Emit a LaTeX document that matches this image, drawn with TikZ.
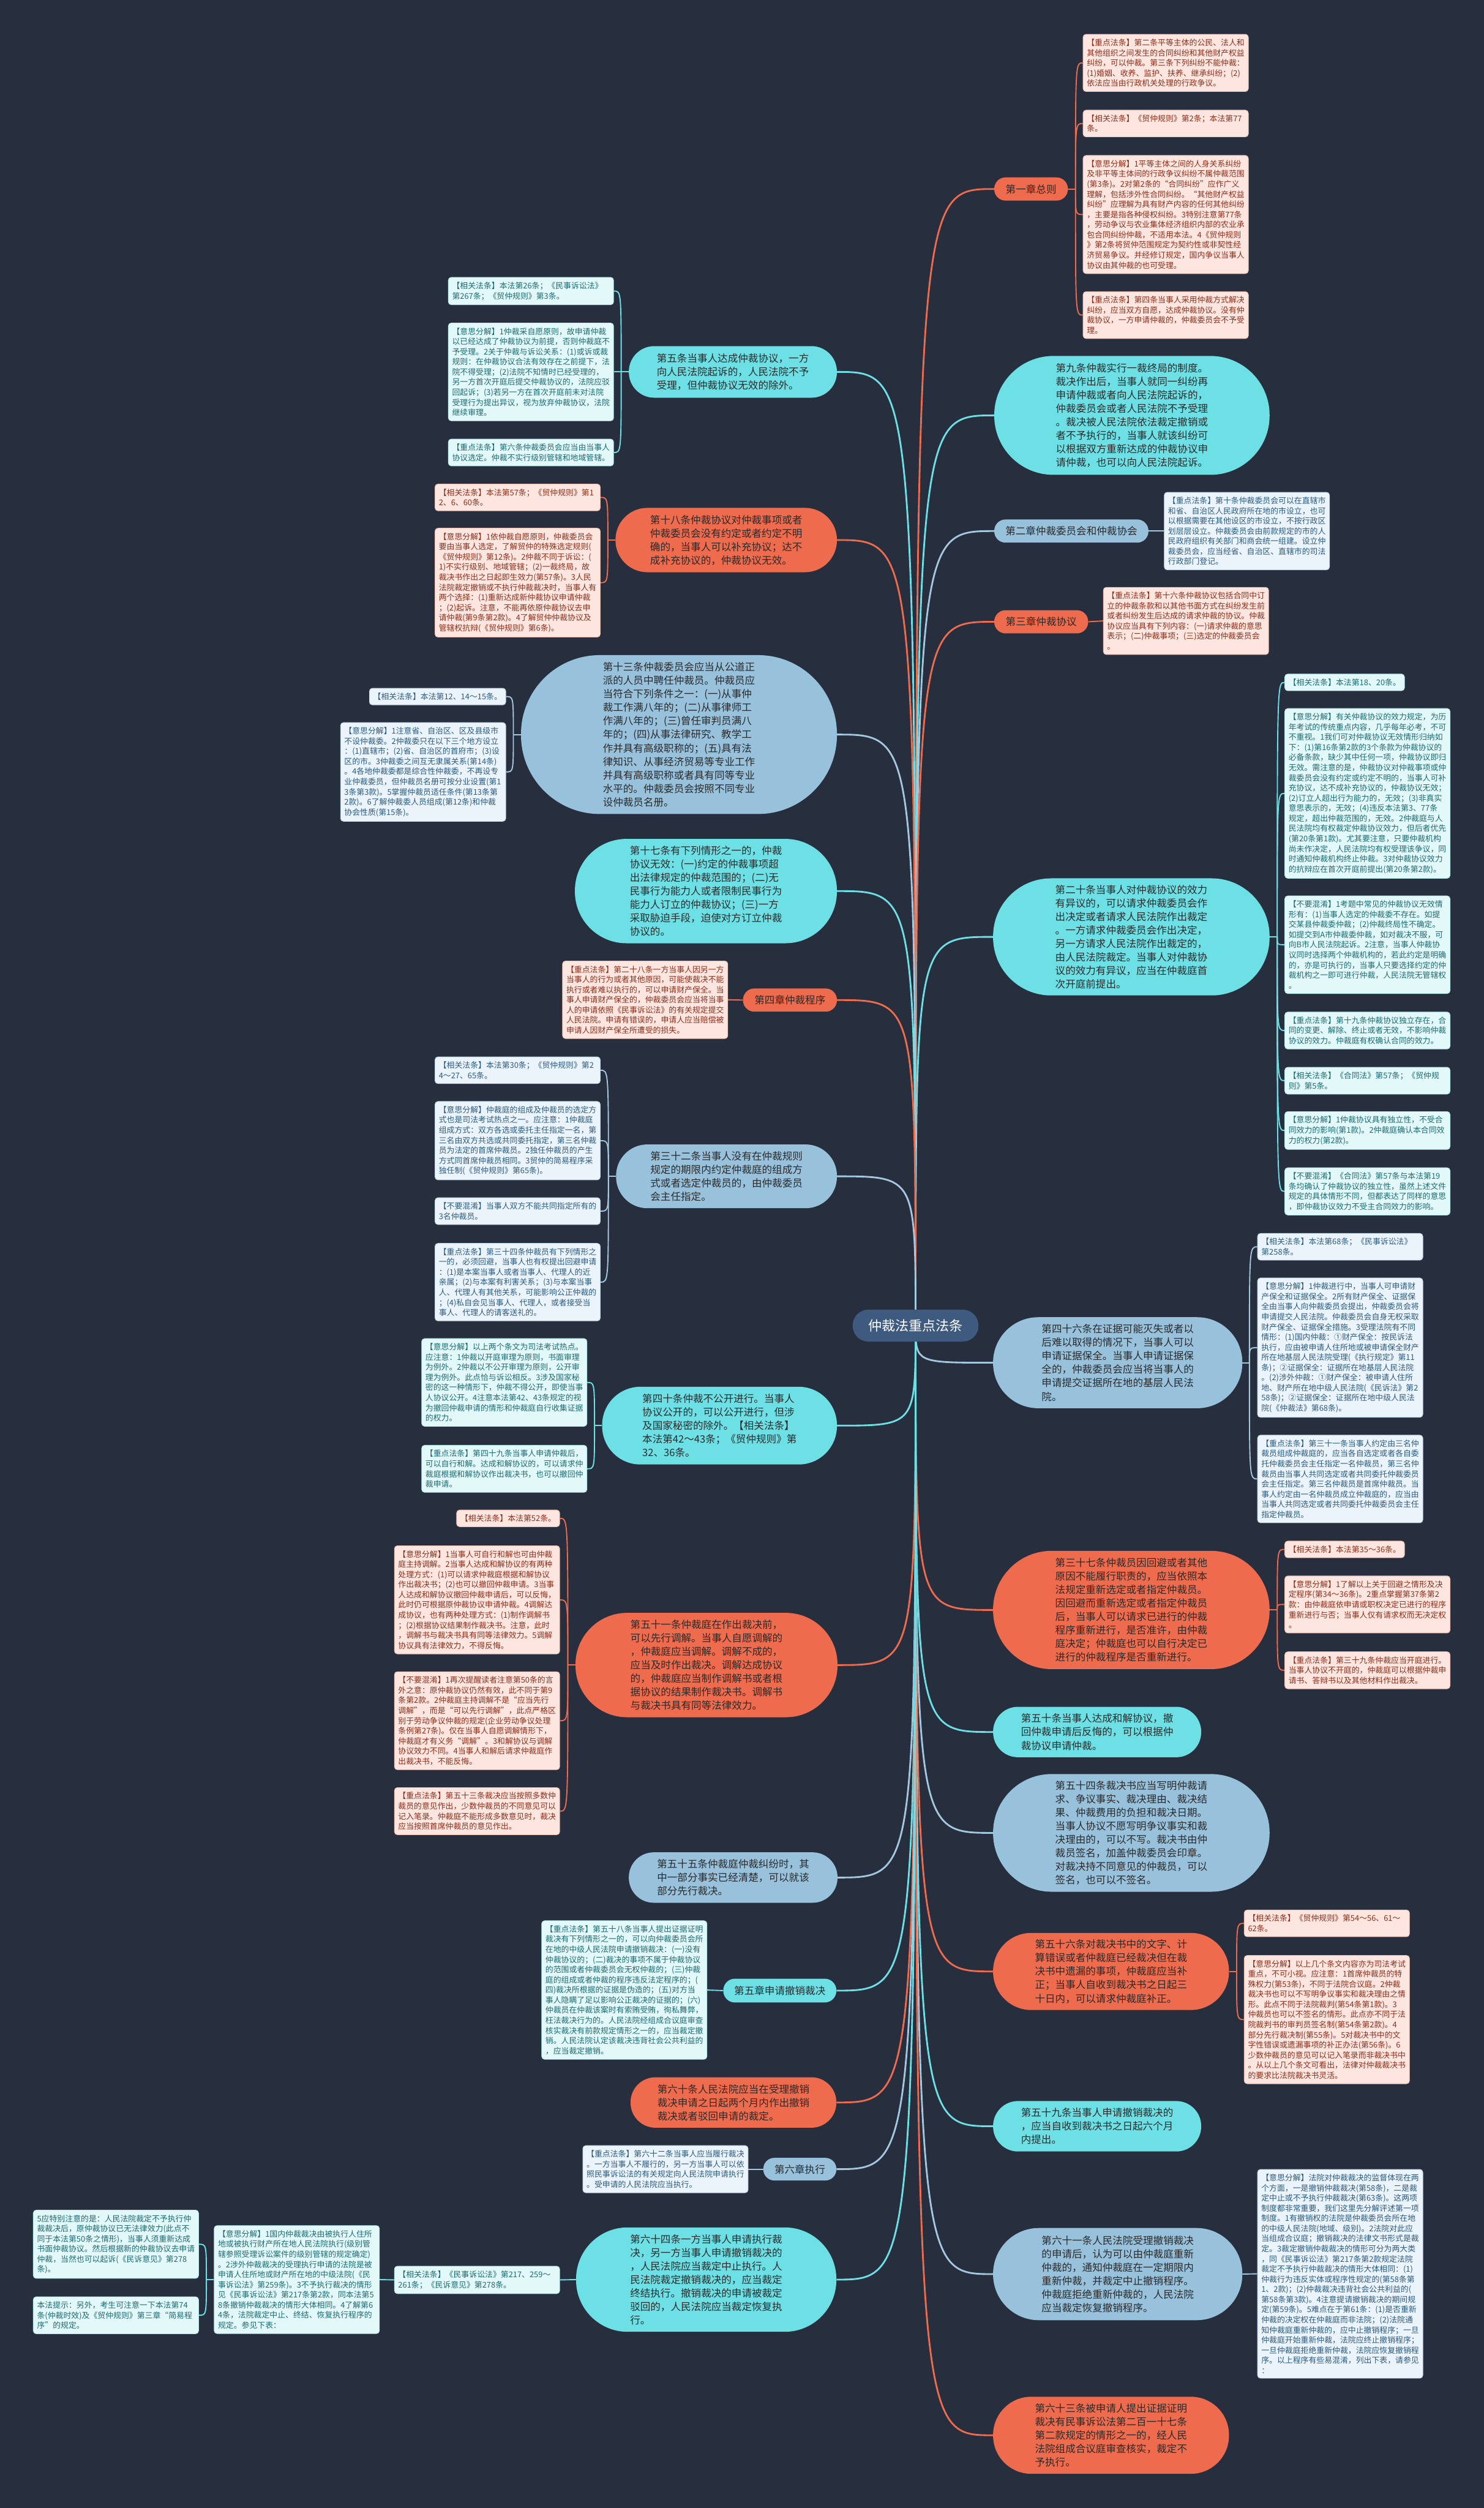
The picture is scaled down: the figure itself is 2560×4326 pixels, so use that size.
\documentclass[tikz,border=0pt]{standalone}
\usepackage{fontspec}
\setmainfont{Noto Sans CJK SC}
\usetikzlibrary{calc}
\definecolor{bgc}{HTML}{272F3F}
\definecolor{ofill}{HTML}{EE6B4D}
\definecolor{cfill}{HTML}{6DE0E6}
\definecolor{bfill}{HTML}{98C1DC}
\definecolor{rootf}{HTML}{3E5A7F}
\definecolor{ntxt}{HTML}{2A2A2A}
\definecolor{pkf}{HTML}{FDE6DF}
\definecolor{pkd}{HTML}{F2C3B4}
\definecolor{pkt}{HTML}{8B2F1B}
\definecolor{cyf}{HTML}{E3F9F9}
\definecolor{cyd}{HTML}{B7ECEF}
\definecolor{cyt}{HTML}{1C6A72}
\definecolor{blf}{HTML}{EBF4FA}
\definecolor{bld}{HTML}{C3DAEA}
\definecolor{blt}{HTML}{2B5B80}
\definecolor{olin}{HTML}{EE6B4D}
\definecolor{clin}{HTML}{6DE0E6}
\definecolor{blin}{HTML}{A3C8E0}
\pgfdeclarelayer{back}
\pgfsetlayers{back,main}
\begin{document}
\begin{tikzpicture}[x=1pt,y=-1pt,
  every node/.style={inner sep=0pt},
  pil/.style={rectangle, align=left, text=ntxt, font=\fontsize{17.5}{23.3}\selectfont},
  opil/.style={pil, fill=ofill},
  cpil/.style={pil, fill=cfill},
  bpil/.style={pil, fill=bfill},
  bx/.style={rectangle, rounded corners=5pt, align=left, text width=272pt, inner xsep=6.5pt, inner ysep=8pt, font=\fontsize{13.6}{17.5}\selectfont, line width=1pt},
  sbx/.style={rectangle, rounded corners=5pt, align=left, inner xsep=6.5pt, inner ysep=8pt, font=\fontsize{13.6}{17.5}\selectfont, line width=1pt},
  pk/.style={fill=pkf, draw=pkd, text=pkt},
  cy/.style={fill=cyf, draw=cyd, text=cyt},
  bl/.style={fill=blf, draw=bld, text=blt},
  rl/.style={line width=3pt, draw=#1},
  br/.style={line width=2pt, draw=#1}]
\begin{pgfonlayer}{back}
\fill[bgc] (0,0) rectangle (2560,4326);
\end{pgfonlayer}
\useasboundingbox (0,0) rectangle (2560,4326);

% ---------- root
\node[rectangle, fill=rootf, text=white, font=\fontsize{23.3}{28}\selectfont, minimum width=217pt, minimum height=55pt, rounded corners=27pt] (root) at (1579.5,2286.5) {仲裁法重点法条};

% ---------- right side
\node[opil, anchor=west, minimum width=127pt, minimum height=40pt, rounded corners=19.5pt] (ch1) at (1715,326) {第一章总则};
\node[bx, pk, anchor=west] (b1a) at (1868,108.5) {【重点法条】第二条平等主体的公民、法人和\\其他组织之间发生的合同纠纷和其他财产权益\\纠纷，可以仲裁。第三条下列纠纷不能仲裁：\\(1)婚姻、收养、监护、扶养、继承纠纷；(2)\\依法应当由行政机关处理的行政争议。};
\node[bx, pk, anchor=west] (b1b) at (1868,213) {【相关法条】《贸仲规则》第2条；本法第77\\条。};
\node[bx, pk, anchor=west] (b1c) at (1868,370) {【意思分解】1平等主体之间的人身关系纠纷\\及非平等主体间的行政争议纠纷不属仲裁范围\\(第3条)。2对第2条的“合同纠纷”应作广义\\理解，包括涉外性合同纠纷。“其他财产权益\\纠纷”应理解为具有财产内容的任何其他纠纷\\，主要是指各种侵权纠纷。3特别注意第77条\\，劳动争议与农业集体经济组织内部的农业承\\包合同纠纷仲裁，不适用本法。4《贸仲规则\\》第2条将贸仲范围规定为契约性或非契性经\\济贸易争议。并经修订规定，国内争议当事人\\协议由其仲裁的也可受理。};
\node[bx, pk, anchor=west] (b1d) at (1868,543.5) {【重点法条】第四条当事人采用仲裁方式解决\\纠纷，应当双方自愿，达成仲裁协议。没有仲\\裁协议，一方申请仲裁的，仲裁委员会不予受\\理。};

\node[cpil, anchor=west, minimum width=475pt, minimum height=205pt, rounded corners=102pt] (n9) at (1715,716.5) {第九条仲裁实行一裁终局的制度。\\裁决作出后，当事人就同一纠纷再\\申请仲裁或者向人民法院起诉的，\\仲裁委员会或者人民法院不予受理\\。裁决被人民法院依法裁定撤销或\\者不予执行的，当事人就该纠纷可\\以根据双方重新达成的仲裁协议申\\请仲裁，也可以向人民法院起诉。};

\node[bpil, anchor=west, minimum width=266pt, minimum height=40pt, rounded corners=19.5pt] (ch2) at (1715,916) {第二章仲裁委员会和仲裁协会};
\node[bx, bl, anchor=west] (b2) at (2008,916) {【重点法条】第十条仲裁委员会可以在直辖市\\和省、自治区人民政府所在地的市设立，也可\\以根据需要在其他设区的市设立，不按行政区\\划层层设立。仲裁委员会由前款规定的市的人\\民政府组织有关部门和商会统一组建。设立仲\\裁委员会，应当经省、自治区、直辖市的司法\\行政部门登记。};

\node[opil, anchor=west, minimum width=162pt, minimum height=40pt, rounded corners=19.5pt] (ch3) at (1715,1072.5) {第三章仲裁协议};
\node[bx, pk, anchor=west] (b3) at (1903,1071) {【重点法条】第十六条仲裁协议包括合同中订\\立的仲裁条款和以其他书面方式在纠纷发生前\\或者纠纷发生后达成的请求仲裁的协议。仲裁\\协议应当具有下列内容：(一)请求仲裁的意思\\表示；(二)仲裁事项；(三)选定的仲裁委员会\\。};

\node[cpil, anchor=west, minimum width=477pt, minimum height=202pt, rounded corners=100pt] (n20) at (1713,1616) {第二十条当事人对仲裁协议的效力\\有异议的，可以请求仲裁委员会作\\出决定或者请求人民法院作出裁定\\。一方请求仲裁委员会作出决定，\\另一方请求人民法院作出裁定的，\\由人民法院裁定。当事人对仲裁协\\议的效力有异议，应当在仲裁庭首\\次开庭前提出。};
\node[sbx, cy, anchor=west] (b20a) at (2216,1177) {【相关法条】本法第18、20条。};
\node[bx, cy, anchor=west] (b20b) at (2216,1368.5) {【意思分解】有关仲裁协议的效力规定，为历\\年考试的传统重点内容，几乎每年必考，不可\\不重视。1我们可对仲裁协议无效情形归纳如\\下：(1)第16条第2款的3个条款为仲裁协议的\\必备条款，缺少其中任何一项，仲裁协议即归\\无效。需注意的是，仲裁协议对仲裁事项或仲\\裁委员会没有约定或约定不明的，当事人可补\\充协议，达不成补充协议的，仲裁协议无效；\\(2)订立人超出行为能力的，无效；(3)非真实\\意思表示的，无效；(4)违反本法第3、77条\\规定，超出仲裁范围的，无效。2仲裁庭与人\\民法院均有权裁定仲裁协议效力，但后者优先\\(第20条第1款)。尤其要注意，只要仲裁机构\\尚未作决定，人民法院均有权受理该争议，同\\时通知仲裁机构终止仲裁。3对仲裁协议效力\\的抗辩应在首次开庭前提出(第20条第2款)。};
\node[bx, cy, anchor=west] (b20c) at (2216,1629.5) {【不要混淆】1考题中常见的仲裁协议无效情\\形有：(1)当事人选定的仲裁委不存在。如提\\交某县仲裁委仲裁；(2)仲裁终局性不确定。\\如提交到A市仲裁委仲裁，如对裁决不服，可\\向B市人民法院起诉。2注意，当事人仲裁协\\议同时选择两个仲裁机构的，若此约定是明确\\的，亦是可执行的，当事人只要选择约定的仲\\裁机构之一即可进行仲裁，人民法院无管辖权\\。};
\node[bx, cy, anchor=west] (b20d) at (2216,1777.5) {【重点法条】第十九条仲裁协议独立存在，合\\同的变更、解除、终止或者无效，不影响仲裁\\协议的效力。仲裁庭有权确认合同的效力。};
\node[bx, cy, anchor=west] (b20e) at (2216,1864) {【相关法条】《合同法》第57条；《贸仲规\\则》第5条。};
\node[bx, cy, anchor=west] (b20f) at (2216,1950) {【意思分解】1仲裁协议具有独立性，不受合\\同效力的影响(第1款)。2仲裁庭确认本合同效\\力的权力(第2款)。};
\node[bx, cy, anchor=west] (b20g) at (2216,2055) {【不要混淆】《合同法》第57条与本法第19\\条均确认了仲裁协议的独立性，虽然上述文件\\规定的具体情形不同，但都表达了同样的意思\\，即仲裁协议效力不受主合同效力的影响。};

\node[bpil, anchor=west, minimum width=430pt, minimum height=157pt, rounded corners=78pt] (n46) at (1713,2350.5) {第四十六条在证据可能灭失或者以\\后难以取得的情况下，当事人可以\\申请证据保全。当事人申请证据保\\全的，仲裁委员会应当将当事人的\\申请提交证据所在地的基层人民法\\院。};
\node[bx, bl, anchor=west] (b46a) at (2169,2150.5) {【相关法条】本法第68条；《民事诉讼法》\\第258条。};
\node[bx, bl, anchor=west] (b46b) at (2169,2324.5) {【意思分解】1仲裁进行中，当事人可申请财\\产保全和证据保全。2所有财产保全、证据保\\全由当事人向仲裁委员会提出，仲裁委员会将\\申请提交人民法院。仲裁委员会自身无权采取\\财产保全、证据保全措施。3受理法院有不同\\情形：(1)国内仲裁：①财产保全：按民诉法\\执行，应由被申请人住所地或被申请保全财产\\所在地基层人民法院受理(《执行规定》第11\\条)；②证据保全：证据所在地基层人民法院\\。(2)涉外仲裁：①财产保全：被申请人住所\\地、财产所在地中级人民法院(《民诉法》第2\\58条)；②证据保全：证据所在地中级人民法\\院(《仲裁法》第68条)。};
\node[bx, bl, anchor=west] (b46c) at (2169,2551) {【重点法条】第三十一条当事人约定由三名仲\\裁员组成仲裁庭的，应当各自选定或者各自委\\托仲裁委员会主任指定一名仲裁员，第三名仲\\裁员由当事人共同选定或者共同委托仲裁委员\\会主任指定。第三名仲裁员是首席仲裁员。当\\事人约定由一名仲裁员成立仲裁庭的，应当由\\当事人共同选定或者共同委托仲裁委员会主任\\指定仲裁员。};

\node[opil, anchor=west, minimum width=477pt, minimum height=204pt, rounded corners=101pt] (n37) at (1713,2777) {第三十七条仲裁员因回避或者其他\\原因不能履行职责的，应当依照本\\法规定重新选定或者指定仲裁员。\\因回避而重新选定或者指定仲裁员\\后，当事人可以请求已进行的仲裁\\程序重新进行，是否准许，由仲裁\\庭决定；仲裁庭也可以自行决定已\\进行的仲裁程序是否重新进行。};
\node[sbx, pk, anchor=west] (b37a) at (2216,2672.5) {【相关法条】本法第35～36条。};
\node[bx, pk, anchor=west] (b37b) at (2216,2767.5) {【意思分解】1了解以上关于回避之情形及决\\定程序(第34～36条)。2重点掌握第37条第2\\款：由仲裁庭依申请或职权决定已进行的程序\\重新进行与否；当事人仅有请求权而无决定权\\。};
\node[bx, pk, anchor=west] (b37c) at (2216,2881) {【重点法条】第三十九条仲裁应当开庭进行。\\当事人协议不开庭的，仲裁庭可以根据仲裁申\\请书、答辩书以及其他材料作出裁决。};

\node[cpil, anchor=west, minimum width=359pt, minimum height=87pt, rounded corners=43pt] (n50) at (1713,2987.5) {第五十条当事人达成和解协议，撤\\回仲裁申请后反悔的，可以根据仲\\裁协议申请仲裁。};

\node[bpil, anchor=west, minimum width=477pt, minimum height=203pt, rounded corners=101pt] (n54) at (1713,3161.5) {第五十四条裁决书应当写明仲裁请\\求、争议事实、裁决理由、裁决结\\果、仲裁费用的负担和裁决日期。\\当事人协议不愿写明争议事实和裁\\决理由的，可以不写。裁决书由仲\\裁员签名，加盖仲裁委员会印章。\\对裁决持不同意见的仲裁员，可以\\签名，也可以不签名。};

\node[opil, anchor=west, minimum width=407pt, minimum height=133pt, rounded corners=66pt] (n56) at (1713,3400.5) {第五十六条对裁决书中的文字、计\\算错误或者仲裁庭已经裁决但在裁\\决书中遗漏的事项，仲裁庭应当补\\正；当事人自收到裁决书之日起三\\十日内，可以请求仲裁庭补正。};
\node[bx, pk, anchor=west] (b56a) at (2146,3317.5) {【相关法条】《贸仲规则》第54～56、61～\\62条。};
\node[bx, pk, anchor=west] (b56b) at (2146,3483.5) {【意思分解】以上几个条文内容亦为司法考试\\重点，不可小视。应注意：1首席仲裁员的特\\殊权力(第53条)，不同于法院合议庭。2仲裁\\裁决书也可以不写明争议事实和裁决理由之情\\形。此点不同于法院裁判(第54条第1款)。3\\仲裁员也可以不签名的情形。此点亦不同于法\\院裁判书的审判员签名制(第54条第2款)。4\\部分先行裁决制(第55条)。5对裁决书中的文\\字性错误或遗漏事项的补正办法(第56条)。6\\少数仲裁员的意见可以记入笔录而非裁决书中\\。从以上几个条文可看出，法律对仲裁裁决书\\的要求比法院裁决书灵活。};

\node[cpil, anchor=west, minimum width=359pt, minimum height=87pt, rounded corners=43pt] (n59) at (1713,3667.5) {第五十九条当事人申请撤销裁决的\\，应当自收到裁决书之日起六个月\\内提出。};

\node[bpil, anchor=west, minimum width=430pt, minimum height=159pt, rounded corners=79pt] (n61) at (1713,3922.5) {第六十一条人民法院受理撤销裁决\\的申请后，认为可以由仲裁庭重新\\仲裁的，通知仲裁庭在一定期限内\\重新仲裁，并裁定中止撤销程序。\\仲裁庭拒绝重新仲裁的，人民法院\\应当裁定恢复撤销程序。};
\node[bx, bl, anchor=west] (b61) at (2169,3922) {【意思分解】法院对仲裁裁决的监督体现在两\\个方面，一是撤销仲裁裁决(第58条)，二是裁\\定中止或不予执行仲裁裁决(第63条)。这两项\\制度都非常重要，我们这里先分解评述第一项\\制度。1有撤销权的法院是仲裁委员会所在地\\的中级人民法院(地域、级别)。2法院对此应\\当组成合议庭；撤销裁决的法律文书形式是裁\\定。3裁定撤销仲裁裁决的情形可分为两大类\\，同《民事诉讼法》第217条第2款规定法院\\裁定不予执行仲裁裁决的情形大体相同：(1)\\仲裁行为违反实体或程序性规定的(第58条第\\1、2款)；(2)仲裁裁决违背社会公共利益的(\\第58条第3款)。4注意提请撤销裁决的期间规\\定(第59条)。5难点在于第61条：(1)是否重新\\仲裁的决定权在仲裁庭而非法院；(2)法院通\\知仲裁庭重新仲裁的，应中止撤销程序；一旦\\仲裁庭开始重新仲裁，法院应终止撤销程序；\\一旦仲裁庭拒绝重新仲裁，法院应恢复撤销程\\序。以上程序有些易混淆，列出下表，请参见\\：};

\node[opil, anchor=west, minimum width=407pt, minimum height=133pt, rounded corners=66pt] (n63) at (1713,4200.5) {第六十三条被申请人提出证据证明\\裁决有民事诉讼法第二百一十七条\\第二款规定的情形之一的，经人民\\法院组成合议庭审查核实，裁定不\\予执行。};

% ---------- left side
\node[cpil, anchor=east, minimum width=359pt, minimum height=89pt, rounded corners=44pt] (n5) at (1444,641.5) {第五条当事人达成仲裁协议，一方\\向人民法院起诉的，人民法院不予\\受理，但仲裁协议无效的除外。};
\node[bx, cy, anchor=east] (b5a) at (1059,502) {【相关法条】本法第26条；《民事诉讼法》\\第267条；《贸仲规则》第3条。};
\node[bx, cy, anchor=east] (b5b) at (1059,641.5) {【意思分解】1仲裁采自愿原则，故申请仲裁\\以已经达成了仲裁协议为前提，否则仲裁庭不\\予受理。2关于仲裁与诉讼关系：(1)或诉或裁\\规则：在仲裁协议合法有效存在之前提下，法\\院不得受理；(2)法院不知情时已经受理的，\\另一方首次开庭后提交仲裁协议的，法院应驳\\回起诉；(3)若另一方在首次开庭前未对法院\\受理行为提出异议，视为放弃仲裁协议，法院\\继续审理。};
\node[bx, cy, anchor=east] (b5c) at (1059,780.5) {【重点法条】第六条仲裁委员会应当由当事人\\协议选定。仲裁不实行级别管辖和地域管辖。};

\node[opil, anchor=east, minimum width=382pt, minimum height=111pt, rounded corners=55pt] (n18) at (1444,931.5) {第十八条仲裁协议对仲裁事项或者\\仲裁委员会没有约定或者约定不明\\确的，当事人可以补充协议；达不\\成补充协议的，仲裁协议无效。};
\node[bx, pk, anchor=east] (b18a) at (1036,858) {【相关法条】本法第57条；《贸仲规则》第1\\2、6、60条。};
\node[bx, pk, anchor=east] (b18b) at (1036,1005) {【意思分解】1依仲裁自愿原则，仲裁委员会\\要由当事人选定，了解贸仲的特殊选定规则(\\《贸仲规则》第12条)。2仲裁不同于诉讼：(\\1)不实行级别、地域管辖；(2)一裁终局，故\\裁决书作出之日起即生效力(第57条)。3人民\\法院裁定撤销或不执行仲裁裁决时，当事人有\\两个选择：(1)重新达成新仲裁协议申请仲裁\\；(2)起诉。注意，不能再依原仲裁协议去申\\请仲裁(第9条第2款)。4了解贸仲仲裁协议及\\管辖权抗辩(《贸仲规则》第6条)。};

\node[bpil, anchor=east, minimum width=545pt, minimum height=274pt, rounded corners=136pt] (n13) at (1444,1267) {第十三条仲裁委员会应当从公道正\\派的人员中聘任仲裁员。仲裁员应\\当符合下列条件之一：(一)从事仲\\裁工作满八年的；(二)从事律师工\\作满八年的；(三)曾任审判员满八\\年的；(四)从事法律研究、教学工\\作并具有高级职称的；(五)具有法\\律知识、从事经济贸易等专业工作\\并具有高级职称或者具有同等专业\\水平的。仲裁委员会按照不同专业\\设仲裁员名册。};
\node[sbx, bl, anchor=east] (b13a) at (873,1201.5) {【相关法条】本法第12、14～15条。};
\node[bx, bl, anchor=east] (b13b) at (873,1331.5) {【意思分解】1注意省、自治区、区及县级市\\不设仲裁委。2仲裁委只在以下三个地方设立\\：(1)直辖市；(2)省、自治区的首府市；(3)设\\区的市。3仲裁委之间互无隶属关系(第14条)\\。4各地仲裁委都是综合性仲裁委，不再设专\\业仲裁委员，但仲裁员名册可按分业设置(第1\\3条第3款)。5掌握仲裁员适任条件(第13条第\\2款)。6了解仲裁委人员组成(第12条)和仲裁\\协会性质(第15条)。};

\node[cpil, anchor=east, minimum width=452pt, minimum height=180pt, rounded corners=89pt] (n17) at (1444,1537) {第十七条有下列情形之一的，仲裁\\协议无效：(一)约定的仲裁事项超\\出法律规定的仲裁范围的；(二)无\\民事行为能力人或者限制民事行为\\能力人订立的仲裁协议；(三)一方\\采取胁迫手段，迫使对方订立仲裁\\协议的。};

\node[opil, anchor=east, minimum width=162pt, minimum height=40pt, rounded corners=19.5pt] (ch4) at (1444,1725) {第四章仲裁程序};
\node[bx, pk, anchor=east] (b4) at (1256,1724.5) {【重点法条】第二十八条一方当事人因另一方\\当事人的行为或者其他原因，可能使裁决不能\\执行或者难以执行的，可以申请财产保全。当\\事人申请财产保全的，仲裁委员会应当将当事\\人的申请依照《民事诉讼法》的有关规定提交\\人民法院。申请有错误的，申请人应当赔偿被\\申请人因财产保全所遭受的损失。};

\node[bpil, anchor=east, minimum width=381pt, minimum height=110pt, rounded corners=54pt] (n32) at (1444,2029) {第三十二条当事人没有在仲裁规则\\规定的期限内约定仲裁庭的组成方\\式或者选定仲裁员的，由仲裁委员\\会主任指定。};
\node[bx, bl, anchor=east] (b32a) at (1036,1846) {【相关法条】本法第30条；《贸仲规则》第2\\4～27、65条。};
\node[bx, bl, anchor=east] (b32b) at (1036,1967.5) {【意思分解】仲裁庭的组成及仲裁员的选定方\\式也是司法考试热点之一。应注意：1仲裁庭\\组成方式：双方各选或委托主任指定一名，第\\三名由双方共选或共同委托指定，第三名仲裁\\员为法定的首席仲裁员。2独任仲裁员的产生\\方式同首席仲裁员相同。3贸仲的简易程序采\\独任制(《贸仲规则》第65条)。};
\node[bx, bl, anchor=east] (b32c) at (1036,2089) {【不要混淆】当事人双方不能共同指定所有的\\3名仲裁员。};
\node[bx, bl, anchor=east] (b32d) at (1036,2211.5) {【重点法条】第三十四条仲裁员有下列情形之\\一的，必须回避，当事人也有权提出回避申请\\：(1)是本案当事人或者当事人、代理人的近\\亲属；(2)与本案有利害关系；(3)与本案当事\\人、代理人有其他关系，可能影响公正仲裁的\\；(4)私自会见当事人、代理人，或者接受当\\事人、代理人的请客送礼的。};

\node[cpil, anchor=east, minimum width=405pt, minimum height=134pt, rounded corners=66pt] (n40) at (1444,2459) {第四十条仲裁不公开进行。当事人\\协议公开的，可以公开进行，但涉\\及国家秘密的除外。【相关法条】\\本法第42～43条；《贸仲规则》第\\32、36条。};
\node[bx, cy, anchor=east] (b40a) at (1013,2384.5) {【意思分解】以上两个条文为司法考试热点。\\应注意：1仲裁以开庭审理为原则，书面审理\\为例外。2仲裁以不公开审理为原则，公开审\\理为例外。此点恰与诉讼相反。3涉及国家秘\\密的这一种情形下，仲裁不得公开，即使当事\\人协议公开。4注意本法第42、43条规定的视\\为撤回仲裁申请的情形和仲裁庭自行收集证据\\的权力。};
\node[bx, cy, anchor=east] (b40b) at (1013,2533.5) {【重点法条】第四十九条当事人申请仲裁后，\\可以自行和解。达成和解协议的，可以请求仲\\裁庭根据和解协议作出裁决书，也可以撤回仲\\裁申请。};

\node[opil, anchor=east, minimum width=452pt, minimum height=180pt, rounded corners=89pt] (n51) at (1445,2872) {第五十一条仲裁庭在作出裁决前，\\可以先行调解。当事人自愿调解的\\，仲裁庭应当调解。调解不成的，\\应当及时作出裁决。调解达成协议\\的，仲裁庭应当制作调解书或者根\\据协议的结果制作裁决书。调解书\\与裁决书具有同等法律效力。};
\node[sbx, pk, anchor=east] (b51a) at (966,2619) {【相关法条】本法第52条。};
\node[bx, pk, anchor=east] (b51b) at (966,2759.5) {【意思分解】1当事人可自行和解也可由仲裁\\庭主持调解。2当事人达成和解协议的有两种\\处理方式：(1)可以请求仲裁庭根据和解协议\\作出裁决书；(2)也可以撤回仲裁申请。3当事\\人达成和解协议撤回仲裁申请后，可以反悔，\\此时仍可根据原仲裁协议申请仲裁。4调解达\\成协议，也有两种处理方式：(1)制作调解书\\；(2)根据协议结果制作裁决书。注意，此时\\，调解书与裁决书具有同等法律效力。5调解\\协议具有法律效力，不得反悔。};
\node[bx, pk, anchor=east] (b51c) at (966,2968) {【不要混淆】1再次提醒读者注意第50条的言\\外之意：原仲裁协议仍然有效，此不同于第9\\条第2款。2仲裁庭主持调解不是“应当先行\\调解”，而是“可以先行调解”，此点严格区\\别于劳动争议仲裁的规定(企业劳动争议处理\\条例第27条)。仅在当事人自愿调解情形下，\\仲裁庭才有义务“调解”。3和解协议与调解\\协议效力不同。4当事人和解后请求仲裁庭作\\出裁决书，不能反悔。};
\node[bx, pk, anchor=east] (b51d) at (966,3124) {【重点法条】第五十三条裁决应当按照多数仲\\裁员的意见作出，少数仲裁员的不同意见可以\\记入笔录。仲裁庭不能形成多数意见时，裁决\\应当按照首席仲裁员的意见作出。};

\node[bpil, anchor=east, minimum width=360pt, minimum height=87pt, rounded corners=43pt] (n55) at (1445,3238.5) {第五十五条仲裁庭仲裁纠纷时，其\\中一部分事实已经清楚，可以就该\\部分先行裁决。};

\node[cpil, anchor=east, minimum width=195pt, minimum height=41pt, rounded corners=20pt] (ch5) at (1443,3433.5) {第五章申请撤销裁决};
\node[bx, cy, anchor=east] (b5x) at (1220,3432.5) {【重点法条】第五十八条当事人提出证据证明\\裁决有下列情形之一的，可以向仲裁委员会所\\在地的中级人民法院申请撤销裁决：(一)没有\\仲裁协议的；(二)裁决的事项不属于仲裁协议\\的范围或者仲裁委员会无权仲裁的；(三)仲裁\\庭的组成或者仲裁的程序违反法定程序的；(\\四)裁决所根据的证据是伪造的；(五)对方当\\事人隐瞒了足以影响公正裁决的证据的；(六)\\仲裁员在仲裁该案时有索贿受贿，徇私舞弊，\\枉法裁决行为的。人民法院经组成合议庭审查\\核实裁决有前款规定情形之一的，应当裁定撤\\销。人民法院认定该裁决违背社会公共利益的\\，应当裁定撤销。};

\node[opil, anchor=east, minimum width=355pt, minimum height=87pt, rounded corners=43pt] (n60) at (1443,3626.5) {第六十条人民法院应当在受理撤销\\裁决申请之日起两个月内作出撤销\\裁决或者驳回申请的裁定。};

\node[bpil, anchor=east, minimum width=126pt, minimum height=39pt, rounded corners=19pt] (ch6) at (1443,3741.5) {第六章执行};
\node[bx, bl, anchor=east] (b6x) at (1291,3741.5) {【重点法条】第六十二条当事人应当履行裁决\\。一方当事人不履行的，另一方当事人可以依\\照民事诉讼法的有关规定向人民法院申请执行\\。受申请的人民法院应当执行。};

\node[cpil, anchor=east, minimum width=449pt, minimum height=180pt, rounded corners=89pt] (n64) at (1443,3932) {第六十四条一方当事人申请执行裁\\决，另一方当事人申请撤销裁决的\\，人民法院应当裁定中止执行。人\\民法院裁定撤销裁决的，应当裁定\\终结执行。撤销裁决的申请被裁定\\驳回的，人民法院应当裁定恢复执\\行。};
\node[bx, cy, anchor=east] (r64) at (966,3932.5) {【相关法条】《民事诉讼法》第217、259～\\261条；《民诉意见》第278条。};
\node[bx, cy, anchor=east] (m64) at (655,3932) {【意思分解】1国内仲裁裁决由被执行人住所\\地或被执行财产所在地人民法院执行(级别管\\辖参照受理诉讼案件的级别管辖的规定确定)\\。2涉外仲裁裁决的受理执行申请的法院是被\\申请人住所地或财产所在地的中级法院(《民\\事诉讼法》第259条)。3不予执行裁决的情形\\见《民事诉讼法》第217条第2款，同本法第5\\8条撤销仲裁裁决的情形大体相同。4了解第6\\4条，法院裁定中止、终结、恢复执行程序的\\规定。参见下表：};
\node[bx, cy, anchor=east] (x64a) at (343,3871) {5应特别注意的是：人民法院裁定不予执行仲\\裁裁决后，原仲裁协议已无法律效力(此点不\\同于本法第50条之情形)，当事人须重新达成\\书面仲裁协议。然后根据新的仲裁协议去申请\\仲裁，当然也可以起诉(《民诉意见》第278\\条)。};
\node[bx, cy, anchor=east] (x64b) at (343,3993.5) {本法提示：另外，考生可注意一下本法第74\\条(仲裁时效)及《贸仲规则》第三章“简易程\\序”的规定。};

% ---------- connectors
\begin{pgfonlayer}{back}
% root to right nodes
\foreach \n/\c in {ch1/olin,n9/clin,ch2/blin,ch3/olin,n20/clin,n46/blin,n37/olin,n50/clin,n54/blin,n56/olin,n59/clin,n61/blin,n63/olin}{
  \draw[rl=\c] (root.center) .. controls (root.center |- \n.west) .. (\n.west);}
% root to left nodes
\foreach \n/\c in {n5/clin,n18/olin,n13/blin,n17/clin,ch4/olin,n32/blin,n40/clin,n51/olin,n55/blin,ch5/clin,n60/olin,ch6/blin,n64/clin}{
  \draw[rl=\c] (root.center) .. controls (root.center |- \n.east) .. (\n.east);}

% right brackets
\path (ch1.east) ++(13,0) coordinate (j1);
\draw[br=olin] (ch1.east) -- (j1);
\foreach \b in {b1a,b1b,b1c,b1d}{\draw[br=olin] (j1) .. controls (j1 |- \b.west) .. (\b.west);}
\draw[br=blin] (ch2.east) -- (b2.west);
\draw[br=olin] (ch3.east) -- (b3.west);
\path (n20.east) ++(13,0) coordinate (j20);
\draw[br=clin] (n20.east) -- (j20);
\foreach \b in {b20a,b20b,b20c,b20d,b20e,b20f,b20g}{\draw[br=clin] (j20) .. controls (j20 |- \b.west) .. (\b.west);}
\path (n46.east) ++(12,0) coordinate (j46);
\draw[br=blin] (n46.east) -- (j46);
\foreach \b in {b46a,b46b,b46c}{\draw[br=blin] (j46) .. controls (j46 |- \b.west) .. (\b.west);}
\path (n37.east) ++(13,0) coordinate (j37);
\draw[br=olin] (n37.east) -- (j37);
\foreach \b in {b37a,b37b,b37c}{\draw[br=olin] (j37) .. controls (j37 |- \b.west) .. (\b.west);}
\path (n56.east) ++(13,0) coordinate (j56);
\draw[br=olin] (n56.east) -- (j56);
\foreach \b in {b56a,b56b}{\draw[br=olin] (j56) .. controls (j56 |- \b.west) .. (\b.west);}
\draw[br=blin] (n61.east) -- (b61.west);

% left brackets
\path (n5.west) ++(-13,0) coordinate (j5);
\draw[br=clin] (n5.west) -- (j5);
\foreach \b in {b5a,b5b,b5c}{\draw[br=clin] (j5) .. controls (j5 |- \b.east) .. (\b.east);}
\path (n18.west) ++(-13,0) coordinate (j18);
\draw[br=olin] (n18.west) -- (j18);
\foreach \b in {b18a,b18b}{\draw[br=olin] (j18) .. controls (j18 |- \b.east) .. (\b.east);}
\path (n13.west) ++(-13,0) coordinate (j13);
\draw[br=blin] (n13.west) -- (j13);
\foreach \b in {b13a,b13b}{\draw[br=blin] (j13) .. controls (j13 |- \b.east) .. (\b.east);}
\draw[br=olin] (ch4.west) -- (b4.east);
\path (n32.west) ++(-13,0) coordinate (j32);
\draw[br=blin] (n32.west) -- (j32);
\foreach \b in {b32a,b32b,b32c,b32d}{\draw[br=blin] (j32) .. controls (j32 |- \b.east) .. (\b.east);}
\path (n40.west) ++(-13,0) coordinate (j40);
\draw[br=clin] (n40.west) -- (j40);
\foreach \b in {b40a,b40b}{\draw[br=clin] (j40) .. controls (j40 |- \b.east) .. (\b.east);}
\path (n51.west) ++(-13,0) coordinate (j51);
\draw[br=olin] (n51.west) -- (j51);
\foreach \b in {b51a,b51b,b51c,b51d}{\draw[br=olin] (j51) .. controls (j51 |- \b.east) .. (\b.east);}
\draw[br=clin] (ch5.west) -- (b5x.east);
\draw[br=blin] (ch6.west) -- (b6x.east);
\draw[br=clin] (n64.west) -- (r64.east);
\draw[br=clin] (r64.west) -- (m64.east);
\path (m64.west) ++(-13,0) coordinate (j64);
\draw[br=clin] (m64.west) -- (j64);
\foreach \b in {x64a,x64b}{\draw[br=clin] (j64) .. controls (j64 |- \b.east) .. (\b.east);}
\end{pgfonlayer}
\end{tikzpicture}
\end{document}
